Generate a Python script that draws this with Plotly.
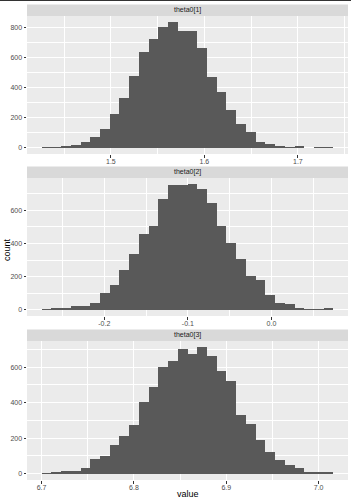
import plotly.graph_objects as go

# ---- data ----
panel_titles = ["theta0[1]", "theta0[2]", "theta0[3]"]

counts1 = [3, 3, 8, 18, 38, 71, 125, 225, 330, 479, 637, 722, 804, 835, 775,
           775, 661, 468, 372, 254, 156, 102, 38, 27, 13, 4, 7, 0, 2, 2]
counts2 = [2, 6, 12, 22, 24, 38, 100, 149, 241, 338, 455, 507, 666, 750, 750,
           757, 728, 642, 507, 402, 306, 203, 179, 91, 38, 32, 8, 1, 2, 6]
counts3 = [2, 9, 15, 15, 30, 82, 102, 163, 214, 273, 404, 488, 602, 636, 704,
           674, 712, 662, 581, 520, 328, 281, 190, 125, 76, 49, 30, 8, 8, 4]

bin_start = [1.4259, -0.2750, 6.7000]
bin_end = [1.7380, 0.0742, 7.0160]

x_tickvals = [[1.5, 1.6, 1.7], [-0.2, -0.1, 0.0], [6.7, 6.8, 6.9, 7.0]]
x_ticktext = [["1.5", "1.6", "1.7"], ["-0.2", "-0.1", "0.0"], ["6.7", "6.8", "6.9", "7.0"]]
y_tickvals = [[0, 200, 400, 600, 800], [0, 200, 400, 600], [0, 200, 400, 600]]

all_counts = [counts1, counts2, counts3]

# ---- layout geometry (pixels) ----
W, H = 351, 500
left_px, right_px = 27, 348
panels_px = [(16, 154), (178, 316), (341, 480)]  # (top, bottom)
strip_h = 11.5

fig = go.Figure()
shapes = []
annotations = []

for i, counts in enumerate(all_counts):
    n = len(counts)
    bw = (bin_end[i] - bin_start[i]) / n
    centers = [bin_start[i] + bw * (k + 0.5) for k in range(n)]
    xa = "x" if i == 0 else f"x{i+1}"
    ya = "y" if i == 0 else f"y{i+1}"
    fig.add_trace(go.Bar(x=centers, y=counts, width=bw, marker=dict(color="#595959", line=dict(width=0)),
                         xaxis=xa, yaxis=ya, showlegend=False, hoverinfo="x+y"))
    top, bot = panels_px[i]
    dom_y = [1 - bot / H, 1 - top / H]
    dom_x = [left_px / W, right_px / W]
    xr = bin_end[i] - bin_start[i]
    xrange = [bin_start[i] - 0.05 * xr, bin_end[i] + 0.05 * xr]
    ymax = max(counts)
    yrange = [-0.05 * ymax, 1.05 * ymax]
    key_x = "xaxis" if i == 0 else f"xaxis{i+1}"
    key_y = "yaxis" if i == 0 else f"yaxis{i+1}"
    fig.update_layout(**{
        key_x: dict(domain=dom_x, anchor=ya, range=xrange, tickmode="array",
                    tickvals=x_tickvals[i], ticktext=x_ticktext[i],
                    showgrid=True, gridcolor="white", gridwidth=1,
                    minor=dict(tickmode="linear", tick0=x_tickvals[i][0] - 0.05, dtick=0.05,
                               showgrid=True, gridcolor="white", gridwidth=0.5, ticks=""),
                    ticks="outside", ticklen=2.5, tickwidth=0.8, tickcolor="#333333",
                    ticklabelstandoff=-2,
                    tickfont=dict(size=7, color="#4D4D4D", family="Liberation Sans"),
                    zeroline=False, showline=False, fixedrange=True),
        key_y: dict(domain=dom_y, anchor=xa, range=yrange, tickmode="array",
                    tickvals=y_tickvals[i],
                    showgrid=True, gridcolor="white", gridwidth=1,
                    minor=dict(tickmode="linear", tick0=100, dtick=200,
                               showgrid=True, gridcolor="white", gridwidth=0.5, ticks=""),
                    ticks="outside", ticklen=2.5, tickwidth=0.8, tickcolor="#333333",
                    tickfont=dict(size=7, color="#4D4D4D", family="Liberation Sans"),
                    zeroline=False, showline=False, fixedrange=True),
    })
    # strip
    s_top = top - strip_h
    shapes.append(dict(type="rect", xref="paper", yref="paper",
                       x0=left_px / W, x1=right_px / W,
                       y0=1 - top / H, y1=1 - s_top / H,
                       fillcolor="#D9D9D9", line=dict(width=0), layer="below"))
    annotations.append(dict(text=panel_titles[i], xref="paper", yref="paper",
                            x=(left_px + right_px) / 2 / W, y=1 - (top - strip_h / 2) / H,
                            showarrow=False, xanchor="center", yanchor="middle",
                            font=dict(size=7, color="#1A1A1A", family="Liberation Sans")))

# top thin dark band
shapes.append(dict(type="rect", xref="paper", yref="paper", x0=0, x1=1, y0=1 - 1 / H, y1=1,
                   fillcolor="#333333", line=dict(width=0)))

annotations.append(dict(text="count", xref="paper", yref="paper", x=7 / W, y=1 - 250 / H,
                        showarrow=False, textangle=-90, xanchor="center", yanchor="middle",
                        font=dict(size=9, color="#000000", family="Liberation Sans")))
annotations.append(dict(text="value", xref="paper", yref="paper", x=(left_px + right_px) / 2 / W,
                        y=1 - 494 / H, showarrow=False, xanchor="center", yanchor="middle",
                        font=dict(size=9, color="#000000", family="Liberation Sans")))

fig.update_layout(width=W, height=H, margin=dict(l=0, r=0, t=0, b=0),
                  paper_bgcolor="white", plot_bgcolor="#EBEBEB", bargap=0,
                  shapes=shapes, annotations=annotations)

fig.write_html("out.html")
